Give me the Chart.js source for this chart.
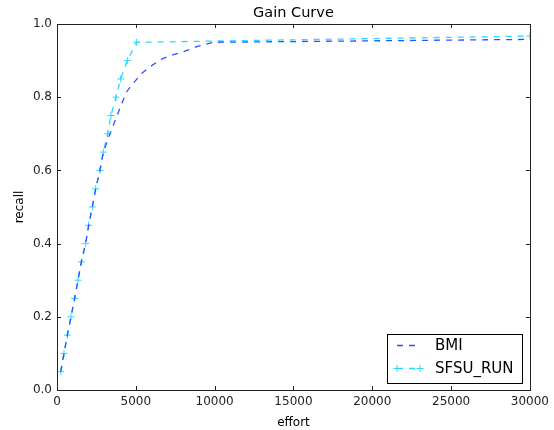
<!DOCTYPE html>
<html>
<head>
<meta charset="utf-8">
<script src="https://cdn.jsdelivr.net/npm/chart.js@4"></script>
<style>
  html, body { margin: 0; padding: 0; background: #fff; }
  #wrap { width: 554px; height: 430px; }
</style>
</head>
<body>
<div id="wrap"><canvas id="gain"></canvas></div>
<script>
// ── data ─────────────────────────────────────────────────────────────────────
const sfsuEffort = [235, 444, 655, 888, 1120, 1332, 1543, 1818, 2008, 2241, 2452, 2727, 2938, 3213, 3424, 3741, 4037, 4460, 5053, 30000];
const sfsuRecall = [0.05, 0.10, 0.15, 0.20, 0.25, 0.30, 0.35, 0.40, 0.45, 0.50, 0.55, 0.60, 0.65, 0.70, 0.75, 0.80, 0.85, 0.90, 0.95, 0.967];

const bmiEffort = [235, 444, 655, 888, 1120, 1332, 1543, 1818, 2008, 2241, 2452, 2727, 2938, 3360, 3995, 4419, 4841, 5370, 5897, 6531, 7165, 8010, 8858, 9900, 30000];
const bmiRecall = [0.05, 0.10, 0.15, 0.20, 0.25, 0.30, 0.35, 0.40, 0.45, 0.50, 0.55, 0.60, 0.65, 0.70, 0.77, 0.815, 0.838, 0.865, 0.883, 0.902, 0.913, 0.924, 0.938, 0.95, 0.958];

const xTicks = [0, 5000, 10000, 15000, 20000, 25000, 30000];
const yTicks = [0.0, 0.2, 0.4, 0.6, 0.8, 1.0];

const FONT = "'DejaVu Sans', sans-serif";
const INK = '#222';
const BMI_C = '#2f50ff';
const SFSU_C = '#2ad8ff';
const TITLE = 'Gain Curve';

const pts = (xs, ys) => xs.map((x, i) => ({ x, y: ys[i] }));

// ── title, inward ticks, full frame, legend (matplotlib classic look) ────────
const frame = {
    id: 'frame',
    afterDatasetsDraw(chart) {
        const { ctx, chartArea: a, scales: { x, y } } = chart;
        ctx.save();

        ctx.fillStyle = '#000';
        ctx.font = `14.5px ${FONT}`;
        ctx.textAlign = 'center'; ctx.textBaseline = 'middle';
        ctx.fillText(TITLE, (a.left + a.right) / 2, 13);
        ctx.textAlign = 'left';

        ctx.strokeStyle = INK; ctx.lineWidth = 1;
        ctx.strokeRect(Math.round(a.left) + 0.5, Math.round(a.top) + 0.5,
                       Math.round(a.right - a.left), Math.round(a.bottom - a.top));
        ctx.beginPath();
        xTicks.forEach(v => {
            const px = Math.round(x.getPixelForValue(v)) + 0.5;
            ctx.moveTo(px, a.bottom); ctx.lineTo(px, a.bottom - 4);
            ctx.moveTo(px, a.top);    ctx.lineTo(px, a.top + 4);
        });
        yTicks.forEach(v => {
            const py = Math.round(y.getPixelForValue(v)) + 0.5;
            ctx.moveTo(a.left, py);  ctx.lineTo(a.left + 4, py);
            ctx.moveTo(a.right, py); ctx.lineTo(a.right - 4, py);
        });
        ctx.stroke();

        // legend box, lower right
        const bx = 387.5, by = 334.5, bw = 135, bh = 49;
        ctx.fillStyle = '#fff';
        ctx.fillRect(bx, by, bw, bh);
        ctx.strokeStyle = '#000';
        ctx.strokeRect(bx, by, bw, bh);
        ctx.font = `15px ${FONT}`;
        ctx.textBaseline = 'middle';
        const rows = [
            { label: 'BMI', color: BMI_C, y: 345.5, cross: false },
            { label: 'SFSU_RUN', color: SFSU_C, y: 368.5, cross: true },
        ];
        rows.forEach(r => {
            ctx.strokeStyle = r.color; ctx.lineWidth = 1.3;
            ctx.setLineDash([6, 6]);
            ctx.beginPath(); ctx.moveTo(397, r.y); ctx.lineTo(420, r.y); ctx.stroke();
            ctx.setLineDash([]);
            if (r.cross) {
                ctx.lineWidth = 1;
                [397, 420].forEach(cx => {
                    ctx.beginPath();
                    ctx.moveTo(cx - 3.5, r.y); ctx.lineTo(cx + 3.5, r.y);
                    ctx.moveTo(cx, r.y - 3.5); ctx.lineTo(cx, r.y + 3.5);
                    ctx.stroke();
                });
            }
            ctx.fillStyle = '#000';
            ctx.fillText(r.label, 435, r.y + 1);
        });
        ctx.restore();
    }
};

new Chart(document.getElementById('gain'), {
    type: 'scatter',
    data: {
        datasets: [{
            label: 'BMI',
            data: pts(bmiEffort, bmiRecall),
            showLine: true, borderColor: BMI_C, borderWidth: 1.3, borderDash: [6, 6],
            pointRadius: 0, tension: 0,
        }, {
            label: 'SFSU_RUN',
            data: pts(sfsuEffort, sfsuRecall),
            showLine: true, borderColor: SFSU_C, borderWidth: 1.3, borderDash: [6, 6],
            pointStyle: 'cross', pointRadius: 3.5, pointBorderWidth: 1,
            pointBorderColor: SFSU_C, pointBackgroundColor: SFSU_C, tension: 0,
        }]
    },
    options: {
        responsive: true, maintainAspectRatio: false, animation: false,
        layout: { padding: { top: 24, right: 24, left: 13, bottom: 0 } },
        plugins: {
            legend: { display: false },
            tooltip: { enabled: false },
            title: { display: false }
        },
        scales: {
            x: {
                type: 'linear', min: 0, max: 30000,
                afterBuildTicks: s => { s.ticks = xTicks.map(v => ({ value: v })); },
                afterFit: s => { s.height = 40; },
                grid: { display: false, drawTicks: false },
                border: { display: false },
                ticks: { color: INK, font: { family: FONT, size: 12 }, padding: 5, maxRotation: 0,
                         callback: v => String(v) },
                title: { display: true, text: 'effort', color: '#000',
                         font: { family: FONT, size: 12 }, padding: { top: 3, bottom: 0 } }
            },
            y: {
                type: 'linear', min: 0, max: 1,
                afterBuildTicks: s => { s.ticks = yTicks.map(v => ({ value: v })); },
                afterFit: s => { s.width = 44; },
                grid: { display: false, drawTicks: false },
                border: { display: false },
                ticks: { color: INK, font: { family: FONT, size: 12 }, padding: 5,
                         callback: v => v.toFixed(1) },
                title: { display: true, text: 'recall', color: '#000',
                         font: { family: FONT, size: 12 }, padding: { top: 0, bottom: 4 } }
            }
        }
    },
    plugins: [frame]
});
</script>
</body>
</html>
